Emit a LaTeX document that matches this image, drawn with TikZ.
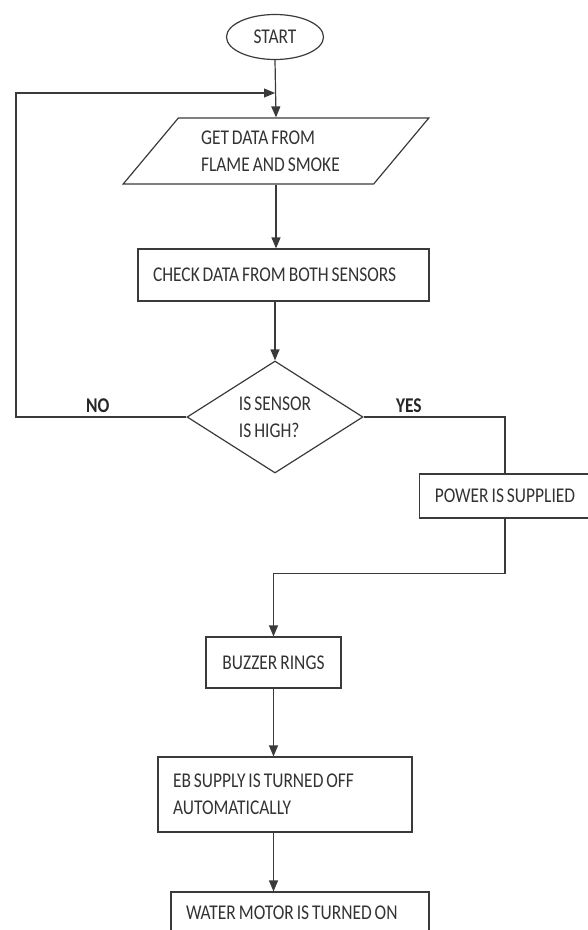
\documentclass[tikz,border=0pt]{standalone}
\usepackage{fontspec}
\setmainfont{Carlito}[FakeStretch=0.83,WordSpace=0.75]
\usetikzlibrary{arrows.meta,positioning,shapes.geometric}
\definecolor{flowline}{HTML}{3A3A3A}
\definecolor{flowtext}{HTML}{333333}

\begin{document}
\begin{tikzpicture}[x=1pt,y=-1pt,>={Triangle[length=11pt,width=9pt]},
 font=\fontsize{21}{27}\selectfont,
 outline/.style={draw=flowline,line width=1.2pt,text=flowtext},
 box/.style={outline,rectangle,inner xsep=15pt,inner ysep=3pt,align=flush left},
 line/.style={draw=flowline,line width=1.2pt},
 arr/.style={line,->},
 tag/.style={font=\fontsize{21}{27}\selectfont\bfseries,text=black!85}]
\useasboundingbox (0,0) rectangle (587,930);
% shapes of the chart
\node[outline,ellipse,minimum width=97pt,minimum height=45pt,inner sep=0pt] (start) at (275,37) {START};
\node[outline,trapezium,trapezium left angle=47,trapezium right angle=133,trapezium stretches=true,
 minimum width=306pt,minimum height=66pt,align=flush left,text width=150pt] (get) at (276,151)
 {GET DATA FROM\\FLAME AND SMOKE};
\node[box,text width=261pt,minimum height=52pt] (check) at (283.5,275) {CHECK DATA FROM BOTH SENSORS};
\node[outline,diamond,aspect=1.57,minimum width=176pt,minimum height=112pt,inner sep=0pt,align=flush left]
 (decision) at (275,417) {IS SENSOR\\IS HIGH?};
\node[box,minimum width=164pt,minimum height=44pt] (power) at (505,496) {POWER IS SUPPLIED};
\node[box,minimum width=135pt,minimum height=51pt] (buzzer) at (273.5,662.5) {BUZZER RINGS};
\node[box,text width=224pt,minimum height=75pt] (eb) at (285,794.5) {EB SUPPLY IS TURNED OFF\\AUTOMATICALLY};
\node[box,text width=228pt,minimum height=42pt] (water) at (300,913) {WATER MOTOR IS TURNED ON};
\coordinate (back) at (16,417);
\coordinate (merge) at (275,93);
% connectors
\draw[arr] (start.south) -- (get.north);
\draw[arr] (decision.west) -- (back) node[tag,pos=.52,above] (no) {NO} |- (merge);
\draw[arr] (get.south) -- (get.south |- check.north);
\draw[arr] (check.south -| decision.north) -- (decision.north);
\draw[line] (decision.east) -| (power.north) node[tag,pos=.16,above] (yes) {YES};
\draw[arr] (power.south) -- ++(0,55) -| (buzzer.north);
\draw[arr] (buzzer.south) -- (buzzer.south |- eb.north);
\draw[arr] (buzzer.south |- eb.south) -- (buzzer.south |- water.north);
\end{tikzpicture}
\end{document}
